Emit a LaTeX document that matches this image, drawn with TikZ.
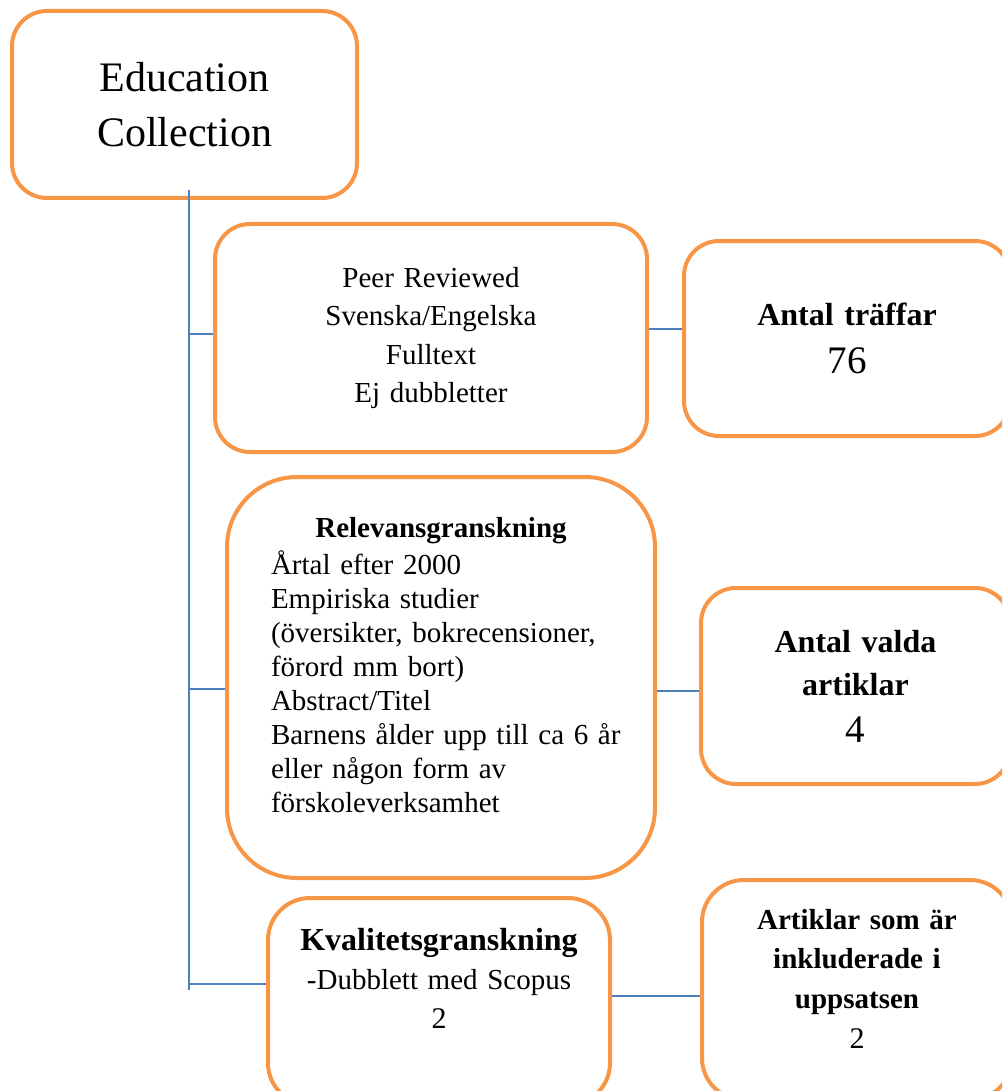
\documentclass[tikz,border=0pt]{standalone}
\usepackage{fontspec}
\setmainfont{Liberation Serif}
\definecolor{boxorange}{HTML}{F79646}
\definecolor{lineblue}{HTML}{4F81BD}
\tikzset{
        boxnode/.style={align=center, draw=boxorange, line width=4pt, fill=white, inner sep=2pt},
        % Start box
        node_start/.style={boxnode, rounded corners=35pt, text width=320pt, minimum width=345pt, minimum height=187pt, font=\fontsize{42}{55}\selectfont},
        % Search steps (left column)
        node_step/.style={boxnode, font=\fontsize{29}{38.3}\selectfont},
        % Counts (right column)
        node_count/.style={boxnode, rounded corners=35pt, text width=290pt, font=\fontsize{32}{45}\selectfont\bfseries},
        % Connector lines
        link/.style={draw=lineblue, line width=2pt}
}

\begin{document}
\begin{tikzpicture}[x=1pt, y=-1pt]
    \useasboundingbox (0,0) rectangle (1002,1091);
    \clip (0,0) rectangle (1002,1091);
    % Boxes
    \node[node_start] (edu) at (184.5,104.5) {Education\\Collection};
    \node[node_step, rounded corners=35pt, text width=400pt, minimum width=432pt, minimum height=228pt] (filter) at (431,338)
        {Peer Reviewed\\Svenska/Engelska\\Fulltext\\Ej dubbletter};
    \node[node_count, minimum width=326pt, minimum height=195pt] (hits) at (847,338.5)
        {Antal träffar\\[3pt]{\mdseries\fontsize{39}{45}\selectfont 76}};
    \node[node_step, rounded corners=70pt, align=left, text width=340pt, minimum width=428pt, minimum height=401pt, text depth=301pt, font=\fontsize{29}{34}\selectfont] (rel) at (441,677.5)
        {\makebox[\linewidth]{\bfseries Relevansgranskning}\\[3pt]
         Årtal efter 2000\\Empiriska studier\\(översikter, bokrecensioner,\\förord mm bort)\\Abstract/Titel\\\mbox{Barnens ålder upp till ca 6 år}\\eller någon form av\\förskoleverksamhet};
    \node[node_count, minimum width=309pt, minimum height=196pt, font=\fontsize{32}{43}\selectfont\bfseries] (chosen) at (855.5,686)
        {Antal valda\\artiklar\\[4pt]{\mdseries\fontsize{39}{43}\selectfont 4}};
    \node[node_step, rounded corners=42pt, text width=320pt, minimum width=342pt, minimum height=207pt, text depth=124pt, font=\fontsize{29}{39}\selectfont] (quality) at (439,1001.5)
        {{\bfseries\fontsize{32}{39}\selectfont Kvalitetsgranskning}\\-Dubblett med Scopus\\{\fontsize{30}{39}\selectfont 2}};
    \node[node_count, rounded corners=42pt, minimum width=310pt, minimum height=220pt, text depth=141.6pt, font=\fontsize{29}{39.6}\selectfont\bfseries] (included) at (857,990)
        {Artiklar som är\\inkluderade i\\uppsatsen\\{\mdseries\fontsize{30}{39.6}\selectfont 2}};
    % Trunk and branches
    \coordinate (trunk_top) at (189,190);
    \coordinate (trunk_end) at (189,990);
    \draw[link] (trunk_top) -- (trunk_end);
    \draw[link] ([yshift=4pt]filter.west) -- ([yshift=4pt]filter.west -| trunk_top);
    \draw[link] ([yshift=-11.5pt]rel.west) -- ([yshift=-11.5pt]rel.west -| trunk_top);
    \draw[link] ([yshift=17.5pt]quality.west) -- ([yshift=17.5pt]quality.west -| trunk_top);
    % Links to the counts
    \draw[link] ([yshift=9pt]filter.east) -- ([yshift=9pt]filter.east -| hits.west);
    \draw[link] ([yshift=-13.5pt]rel.east) -- ([yshift=-13.5pt]rel.east -| chosen.west);
    \draw[link] ([yshift=5.5pt]quality.east) -- ([yshift=5.5pt]quality.east -| included.west);
\end{tikzpicture}
\end{document}
